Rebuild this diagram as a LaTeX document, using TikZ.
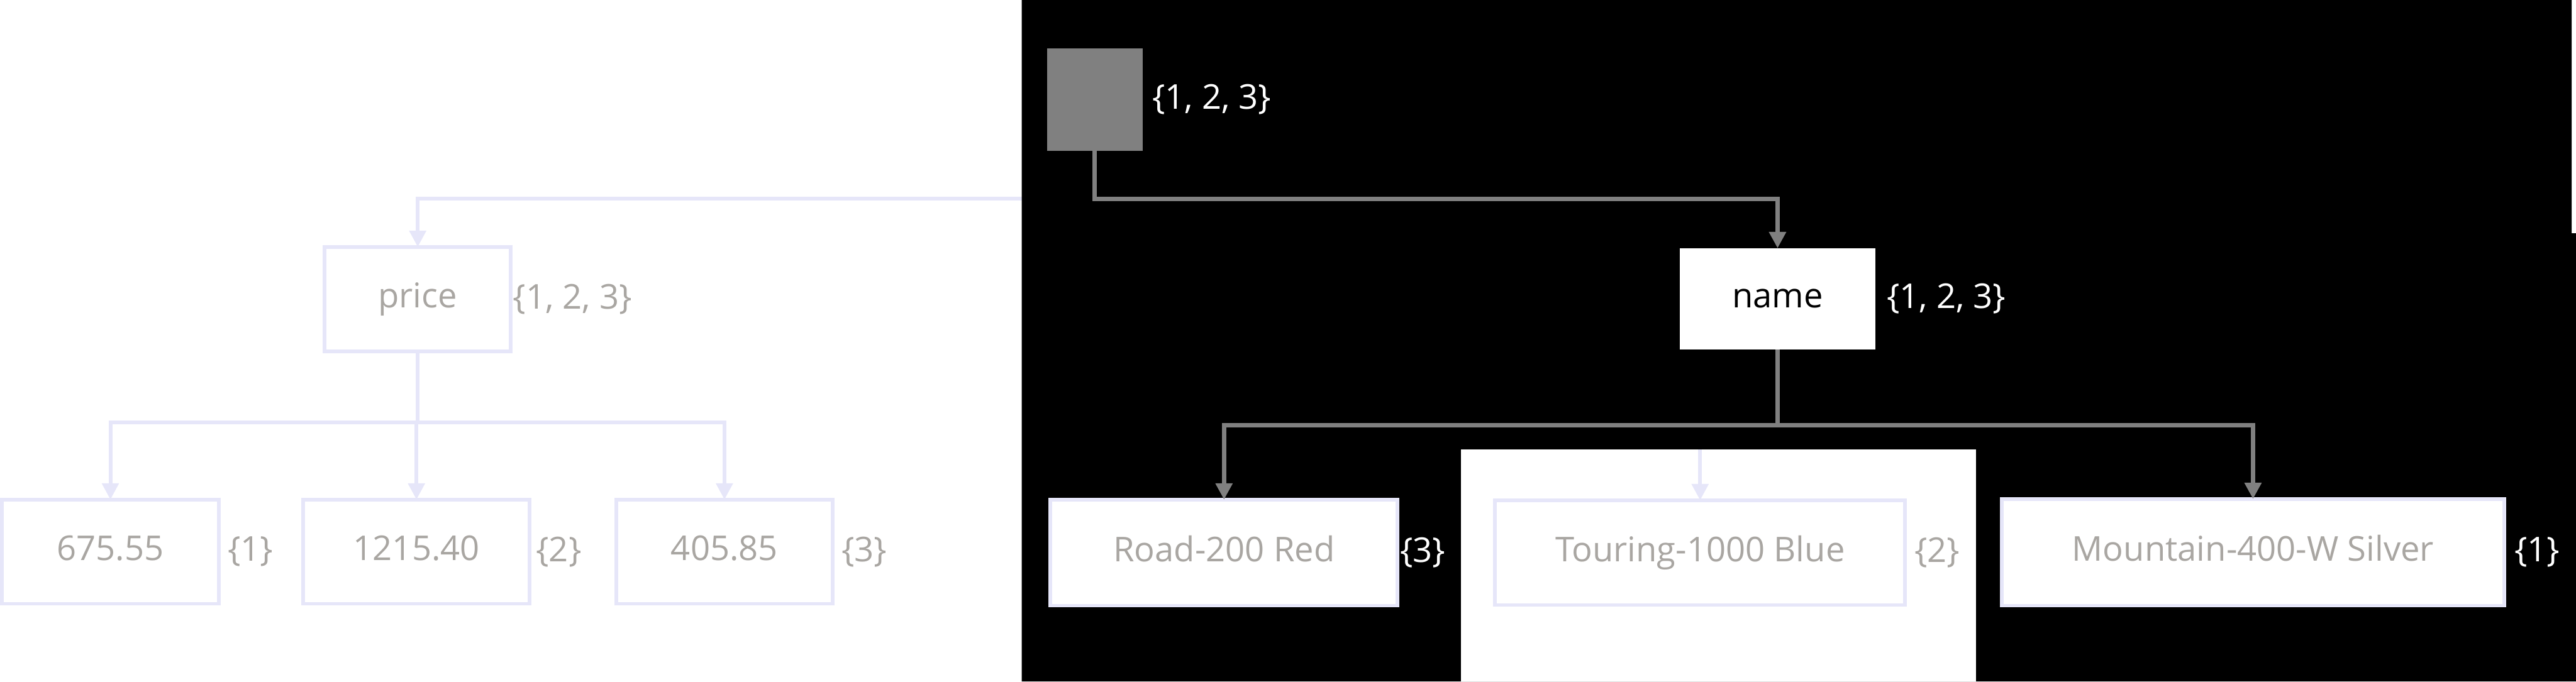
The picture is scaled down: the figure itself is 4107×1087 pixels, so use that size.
\documentclass[tikz,border=0pt]{standalone}
\usepackage{fontspec}
\setmainfont{Open Sans}
\usepackage{tikz}
\usetikzlibrary{positioning,arrows.meta}
\definecolor{wire}    {HTML}{808080}
\definecolor{haze}    {HTML}{E6E6F9}
\definecolor{fadeink} {HTML}{A9A6A2}
\tikzset{
  every node/.style={font=\fontsize{15.5}{18}\selectfont},
  % --- nodes
  box/.style    = {rectangle, outer sep=0pt, inner sep=0pt, align=center,
                   text height=0.85em, text depth=0.05em, minimum height=1.61cm},
  ghost/.style  = {box, draw=haze, line width=1.7pt, fill=white, text=fadeink,
                   minimum height=1.66cm},
  rootbox/.style= {box, fill=wire, minimum width=1.53cm, minimum height=1.64cm},
  namebox/.style= {box, fill=white, text=black, minimum width=3.12cm},
  idw/.style    = {inner sep=0pt, outer sep=0pt, text=white},
  idg/.style    = {idw, text=fadeink},
  % --- edges
  wire/.style   = {-{Triangle[width=2.6mm,length=2.6mm]}, draw=wire, line width=2pt},
  fade/.style   = {wire, draw=haze, line width=1.7pt},
}

\begin{document}
\begin{tikzpicture}[x=0.01cm, y=-0.01cm]
  \useasboundingbox (0,0) rectangle (4107,1087);

  % ------------------------------------------------------------------ price subtree
  \node[ghost, minimum width=2.97cm] (price) at (666,477) {price};
  \node[idg, right=0.03cm of price] (pricei) {\{1, 2, 3\}};

  \node[ghost, minimum width=3.46cm] (p1) at (176,880) {675.55};
  \node[ghost, minimum width=3.61cm] (p2) at (664,880) {1215.40};
  \node[ghost, minimum width=3.45cm] (p3) at (1155,880) {405.85};
  \node[idg, right=0.14cm of p1] (p1i) {\{1\}};
  \node[idg, right=0.10cm of p2] (p2i) {\{2\}};
  \node[idg, right=0.14cm of p3] (p3i) {\{3\}};

  \coordinate (cut) at (1629,317);
  \draw[fade] (cut) -| (price);
  \draw[fade] (price.south) -- ++(0,114) -| (p1);
  \draw[fade] (price.south) -- ++(0,114) -| (p2);
  \draw[fade] (price.south) -- ++(0,114) -| (p3);

  % ------------------------------------------------------------------ backdrop
  \fill[black] (1629,0) -- (4100,0) -- (4100,372) -- (4107,372)
               -- (4107,1087) -- (1629,1087) -- cycle;
  \fill[white] (2329,717) rectangle (3150,1087);

  % ------------------------------------------------------------------ name subtree
  \node[rootbox] (root) at (1745.5,159) {};
  \node[idw, right=0.15cm of root] (rooti) {\{1, 2, 3\}};

  \node[namebox] (name) at (2834,476.5) {name};
  \node[idw, right=0.18cm of name] (namei) {\{1, 2, 3\}};

  \node[ghost, minimum width=5.53cm, minimum height=1.69cm] (road)  at (1951.5,881.5) {Road-200 Red};
  \node[ghost, minimum width=6.53cm, minimum height=1.67cm] (tour)  at (2710.5,881.5) {Touring-1000 Blue};
  \node[ghost, minimum width=8.01cm, minimum height=1.70cm] (mount) at (3592,881) {Mountain-400-W Silver};
  \node[idw, right=0.04cm of road]  (roadi)  {\{3\}};
  \node[idg, right=0.15cm of tour]  (touri)  {\{2\}};
  \node[idw, right=0.16cm of mount] (mounti) {\{1\}};

  \draw[wire] (root.south) -- ++(0,76) -| (name);
  \draw[wire] (name.south) -- ++(0,121) -| (road);
  \draw[wire] (name.south) -- ++(0,121) -| (mount);

  \coordinate (gap) at (2710.5,717);
  \draw[fade] (gap) -- (tour);
\end{tikzpicture}
\end{document}
